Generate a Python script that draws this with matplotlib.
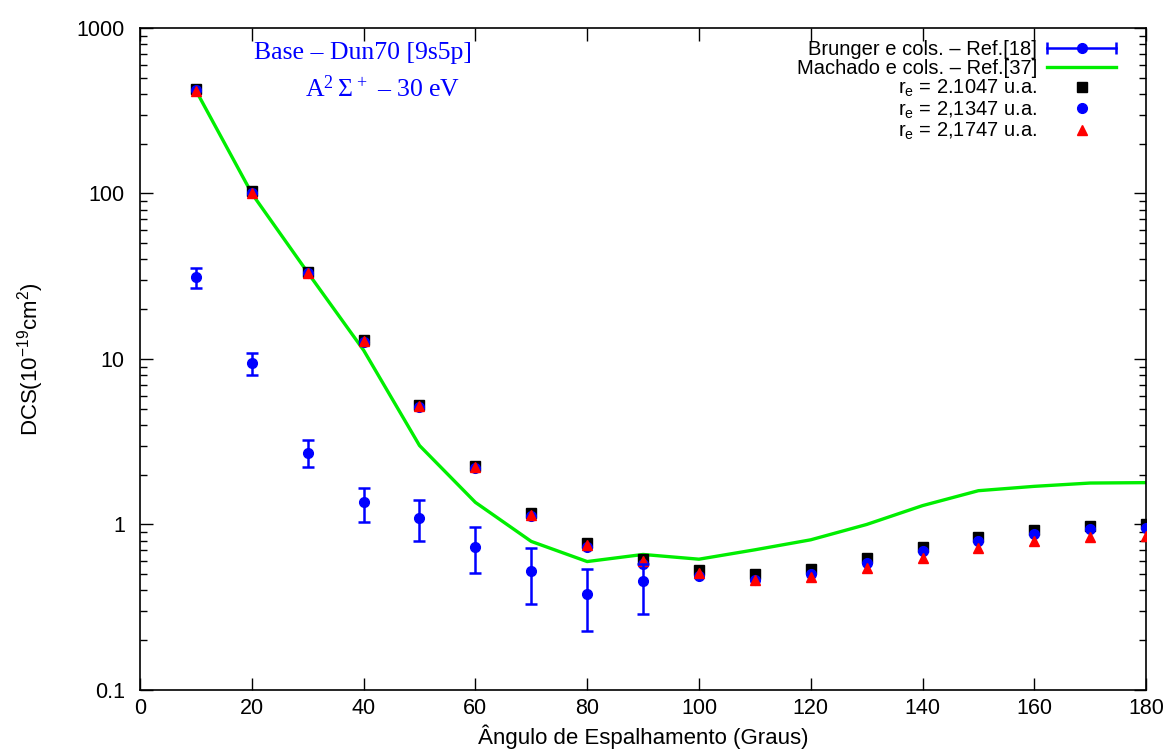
import numpy as np
import matplotlib
matplotlib.use("Agg")
import matplotlib.pyplot as plt
from matplotlib.lines import Line2D
from matplotlib.legend_handler import HandlerBase
from matplotlib.ticker import FixedLocator, LogLocator, NullFormatter

plt.rcParams["font.family"] = ["Liberation Sans", "DejaVu Sans"]
plt.rcParams["mathtext.fontset"] = "custom"
plt.rcParams["mathtext.rm"] = "Liberation Sans"
plt.rcParams["mathtext.sf"] = "Liberation Sans"
plt.rcParams["mathtext.tt"] = "Liberation Serif"

# Brunger e cols. (experimental, with error bars)
ang_exp = [10, 20, 30, 40, 50, 60, 70, 80, 90]
dcs_exp = [31.5, 9.4, 2.72, 1.36, 1.09, 0.73, 0.52, 0.38, 0.457]
err_hi = [35.7, 10.9, 3.22, 1.67, 1.40, 0.96, 0.72, 0.537, 0.58]
err_lo = [27.0, 7.95, 2.24, 1.04, 0.79, 0.506, 0.332, 0.226, 0.289]

# Machado e cols.
ang_mach = [10, 20, 30, 40, 50, 60, 70, 80, 90, 100, 110, 120, 130, 140, 150, 160, 170, 180]
dcs_mach = [419, 100, 33.3, 11.3, 3.0, 1.36, 0.79, 0.597, 0.659, 0.617, 0.703, 0.808,
            1.0, 1.30, 1.60, 1.70, 1.78, 1.79]

# present calculations, three r_e values
ang_calc = [10, 20, 30, 40, 50, 60, 70, 80, 90, 100, 110, 120, 130, 140, 150, 160, 170, 180]
dcs_r1 = [425, 103, 33.5, 13.0, 5.3, 2.27, 1.17, 0.77, 0.62, 0.532, 0.504, 0.54,
          0.63, 0.736, 0.838, 0.92, 0.977, 1.0]
dcs_r2 = [420, 101, 33.0, 12.7, 5.15, 2.2, 1.12, 0.73, 0.58, 0.49, 0.459, 0.504,
          0.584, 0.687, 0.793, 0.879, 0.933, 0.955]
dcs_r3 = [418, 101, 33.2, 12.8, 5.2, 2.22, 1.14, 0.75, 0.60, 0.508, 0.463, 0.48,
          0.546, 0.629, 0.719, 0.79, 0.838, 0.85]

BLUE = "#0000ff"


class GnuplotErrHandler(HandlerBase):
    # horizontal bar with end caps and a dot, like gnuplot's errorbar key
    def create_artists(self, legend, orig_handle, xdescent, ydescent,
                       width, height, fontsize, trans):
        x0, x1 = -xdescent, -xdescent + width
        y = (height - ydescent) / 2
        bar = Line2D([x0, x1], [y, y], color=BLUE, lw=1.8)
        caps = Line2D([x0, x1], [y, y], color=BLUE, ls="none", marker="|",
                      ms=9, mew=1.8)
        dot = Line2D([(x0 + x1) / 2], [y], color=BLUE, ls="none", marker="o", ms=7)
        for a in (bar, caps, dot):
            a.set_transform(trans)
        return [bar, caps, dot]


fig = plt.figure(figsize=(11.71, 7.54), dpi=100)
ax = fig.add_axes([0.1196, 0.0849, 0.8591, 0.878])

dcs_exp = np.array(dcs_exp)
yerr = [dcs_exp - np.array(err_lo), np.array(err_hi) - dcs_exp]
eb = ax.errorbar(ang_exp, dcs_exp, yerr=yerr, fmt="o", color=BLUE, ms=7,
                 elinewidth=1.8, capsize=4, capthick=1.8, zorder=4)
l_mach, = ax.plot(ang_mach, dcs_mach, color="#00ee00", lw=2.4, zorder=2)
l_r1, = ax.plot(ang_calc, dcs_r1, "s", color="black", ms=7.5, ls="none", zorder=3)
l_r2, = ax.plot(ang_calc, dcs_r2, "o", color=BLUE, ms=7, ls="none", zorder=3)
l_r3, = ax.plot(ang_calc, dcs_r3, "^", color="#ff0000", ms=6.5, ls="none", zorder=3)

ax.set_yscale("log")
ax.set_xlim(0, 180)
ax.set_ylim(0.1, 1000)
ax.xaxis.set_major_locator(FixedLocator(np.arange(0, 181, 20)))
ax.yaxis.set_major_locator(FixedLocator([0.1, 1, 10, 100, 1000]))
ax.set_yticklabels(["0.1", "1", "10", "100", "1000"])
ax.yaxis.set_minor_locator(LogLocator(base=10, subs=np.arange(2, 10)))
ax.yaxis.set_minor_formatter(NullFormatter())
ax.tick_params(which="both", direction="in", top=True, right=True, labelsize=15.5)
ax.tick_params(which="major", length=9, width=1)
ax.tick_params(which="minor", length=5, width=1)
ax.tick_params(axis="y", pad=11)
ax.tick_params(axis="x", pad=6)
for s in ax.spines.values():
    s.set_linewidth(1.2)

ax.set_xlabel("Ângulo de Espalhamento (Graus)", fontsize=16, labelpad=4)
ax.set_ylabel(r"DCS(10$^{-19}$cm$^{2}$)", fontsize=16, labelpad=22)

serif = ["Liberation Serif", "DejaVu Serif"]
ax.text(0.222, 0.962, "Base – Dun70 [9s5p]", transform=ax.transAxes,
        ha="center", va="center", color=BLUE, fontsize=18.5, family=serif)
ax.text(0.2415, 0.909, r"$\mathtt{A^2\,\Sigma^+}$ – 30 eV", transform=ax.transAxes,
        ha="center", va="center", color=BLUE, fontsize=18.5, family=serif)

handles = [eb, l_mach, l_r1, l_r2, l_r3]
labels = ["Brunger e cols. – Ref.[18]", "Machado e cols. – Ref.[37]",
          r"r$_{\mathsf{e}}$ = 2.1047 u.a.", r"r$_{\mathsf{e}}$ = 2,1347 u.a.",
          r"r$_{\mathsf{e}}$ = 2,1747 u.a."]
ax.legend(handles, labels, loc="upper right", frameon=False, markerfirst=False,
          fontsize=14.5, handlelength=3.4, labelspacing=0.0, borderaxespad=0.0,
          handletextpad=0.5, bbox_to_anchor=(0.978, 0.994),
          handler_map={type(eb): GnuplotErrHandler()})

fig.savefig("out.png", dpi=100)
